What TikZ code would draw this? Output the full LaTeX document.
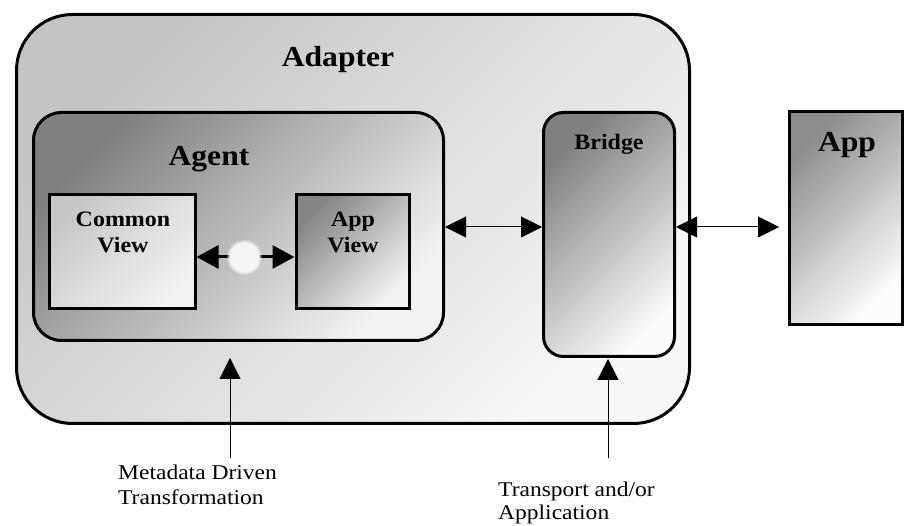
\documentclass[tikz,border=0pt]{standalone}
\usepackage{fontspec}
\setmainfont{Liberation Serif}
\newfontfamily\widefont[FakeStretch=1.09]{Liberation Serif}
\newfontfamily\notefont[FakeStretch=1.12]{Liberation Serif}
\usetikzlibrary{arrows.meta,fadings}
\begin{document}
\begin{tikzpicture}[x=1pt,y=-1pt,
  panel/.style 2 args={draw=black, line width=3pt, inner sep=0pt,
    top color=#1, bottom color=#2, shading angle=45},
  ttl/.style={font=\widefont\bfseries\fontsize{29}{30}\selectfont, inner sep=0pt, anchor=base},
  sub/.style={font=\widefont\bfseries\fontsize{22}{26}\selectfont, align=center, inner sep=0pt, anchor=base},
  note/.style={font=\notefont\fontsize{21}{25}\selectfont, align=left, inner sep=0pt, anchor=base west},
  link/.style={line width=1pt, {Triangle[length=21pt,width=21pt]}-{Triangle[length=21pt,width=21pt]}},
  innerlink/.style={line width=3pt, {Triangle[length=22pt,width=23pt]}-{Triangle[length=22pt,width=23pt]}},
  up/.style={line width=1pt, -{Triangle[length=21pt,width=21pt]}},
]
\useasboundingbox (0,0) rectangle (906,526);

% boxes
\node[panel={black!23}{black!3}, rounded corners=56pt, minimum width=673pt, minimum height=409pt] (adapter) at (353,219) {};
\node[panel={black!50}{black!5}, rounded corners=28pt, minimum width=410pt, minimum height=228pt] (agent) at (238.5,226.5) {};
\node[panel={black!22}{black!5}, minimum width=146pt, minimum height=114pt] (common) at (122,252) {};
\node[panel={black!48}{black!5}, minimum width=113pt, minimum height=114pt] (appview) at (352.5,252) {};
\node[panel={black!50}{black!2}, rounded corners=20pt, minimum width=131pt, minimum height=244pt] (bridge) at (609,234.5) {};
\node[panel={black!45}{black!1}, minimum width=113pt, minimum height=213pt] (app) at (846,218) {};

% titles
\node[ttl] (adaptertitle) at (338,67) {Adapter};
\node[ttl] (agenttitle) at (209,166) {Agent};
\node[sub] (bridgetitle) at (609,150) {Bridge};
\node[ttl] (apptitle) at (847,152) {App};
\node[sub] (commontitle) at (123,253) {Common\\View};
\node[sub] (appviewtitle) at (353,253) {App\\View};

% inner connector with glow
\draw[innerlink] (common.east |- 0,257) -- (appview.west |- 0,257);
\node[circle, fill=white!96!black, path fading=circle with fuzzy edge 20 percent, minimum size=36pt, inner sep=0pt] (hub) at (244,257) {};

% outer connectors
\draw[link] (agent.east |- 0,227) -- (bridge.west |- 0,227);
\draw[link, shorten >=9pt] (bridge.east |- 0,227) -- (app.west |- 0,227);

% inputs from below
\coordinate (metasrc) at (230,458);
\coordinate (transsrc) at (608,458);
\draw[up, shorten >=16pt] (metasrc) -- (metasrc |- agent.south);
\draw[up, shorten >=1pt] (transsrc) -- (transsrc |- bridge.south);

% notes
\node[note] (metalabel) at (118,505) {Metadata Driven\\Transformation};
\node[note, font=\notefont\fontsize{21}{23}\selectfont] (translabel) at (498,520) {Transport and/or\\Application};
\end{tikzpicture}
\end{document}
